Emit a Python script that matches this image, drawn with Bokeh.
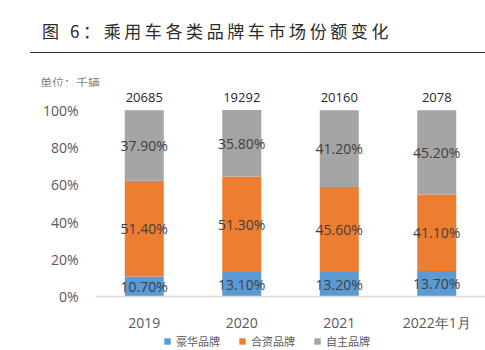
from bokeh.plotting import figure
from bokeh.models import (ColumnDataSource, FactorRange, Range1d, FixedTicker,
                          NumeralTickFormatter, Legend, LegendItem, Div)
from bokeh.layouts import column
from bokeh.core.properties import value
from bokeh.embed import file_html
from bokeh.resources import INLINE

# ---------------- data ----------------
title_text = "图 6：乘用车各类品牌车市场份额变化"
unit_text = "单位：千辆"
categories = ["2019", "2020", "2021", "2022年1月"]
totals = [20685, 19292, 20160, 2078]
series_names = ["豪华品牌", "合资品牌", "自主品牌"]
luxury = [0.107, 0.131, 0.132, 0.137]
joint = [0.514, 0.513, 0.456, 0.411]
domestic = [0.379, 0.358, 0.412, 0.452]
colors = ["#5B9BD5", "#ED7D31", "#A5A5A5"]
y_ticks = [0, 0.2, 0.4, 0.6, 0.8, 1.0]

FONT = "Open Sans"
CJK = "Noto Sans CJK SC"

src = ColumnDataSource(dict(cat=categories, lux=luxury, jv=joint, dom=domestic,
                            tot=[str(v) for v in totals],
                            top=[a + b + c for a, b, c in zip(luxury, joint, domestic)]))
lux_mid = [v / 2 for v in luxury]
jv_mid = [a + b / 2 for a, b in zip(luxury, joint)]
dom_mid = [a + b + c / 2 for a, b, c in zip(luxury, joint, domestic)]


def pct(v):
    return "%.2f%%" % (v * 100)


# ---------------- header (title, rule, unit) ----------------
header_html = (
    '<div style="position:relative;width:485px;height:86px;">'
    '<div style="position:absolute;left:42px;top:20px;white-space:nowrap;letter-spacing:3.6px;'
    "font-family:'Noto Sans CJK SC';font-size:17px;font-weight:400;line-height:22px;color:#2b2b2b;\">"
    + title_text + '</div>'
    '<div style="position:absolute;left:30px;top:52px;width:455px;height:0;'
    'border-top:1.5px solid #333333;"></div>'
    '<div style="position:absolute;left:40px;top:76px;white-space:nowrap;'
    "font-family:'Noto Sans CJK SC';font-size:12px;line-height:14px;color:#7f7f7f;\">"
    + unit_text + '</div></div>'
)
header = Div(text=header_html, width=485, height=86, margin=0)

# ---------------- chart ----------------
p = figure(width=485, height=248, x_range=FactorRange(*categories),
           y_range=Range1d(0, 1.1277), output_backend="svg", toolbar_location=None,
           min_border_left=95, min_border_right=0, min_border_top=0, min_border_bottom=36,
           margin=0)
p.outline_line_color = None
p.grid.visible = False

r = p.vbar_stack(["lux", "jv", "dom"], x="cat", width=0.4, source=src,
                 color=colors, line_color=None)

for mids, vals in [(lux_mid, luxury), (jv_mid, joint), (dom_mid, domestic)]:
    p.text(x=categories, y=mids, text=[pct(v) for v in vals], text_font=value(FONT),
           text_font_size="14px", text_color="#404040", text_align="center",
           text_baseline="middle")

p.text(x="cat", y="top", text="tot", source=src, text_font=value(FONT),
       text_font_size="13px", text_color="#262626", text_align="center",
       text_baseline="bottom", y_offset=-8)

p.yaxis.ticker = FixedTicker(ticks=y_ticks)
p.yaxis.formatter = NumeralTickFormatter(format="0%")
p.yaxis.axis_line_color = None
p.yaxis.major_tick_line_color = None
p.yaxis.minor_tick_line_color = None
p.yaxis.major_label_text_font = FONT
p.yaxis.major_label_text_font_size = "14px"
p.yaxis.major_label_text_color = "#595959"
p.yaxis.major_label_standoff = 11

p.xaxis.axis_line_color = "#D9D9D9"
p.xaxis.axis_line_width = 1.5
p.xaxis.major_tick_line_color = None
p.xaxis.minor_tick_line_color = None
p.xaxis.major_label_text_font = FONT
p.xaxis.major_label_text_font_size = "14px"
p.xaxis.major_label_text_color = "#595959"
p.xaxis.major_label_standoff = 10

# ---------------- legend strip ----------------
lg = figure(width=485, height=16, x_range=FactorRange(*categories), y_range=Range1d(0, 1),
            output_backend="svg", toolbar_location=None, min_border_left=95,
            min_border_right=0, min_border_top=0, min_border_bottom=0, margin=0)
lg.axis.visible = False
lg.grid.visible = False
lg.outline_line_color = None
lr = lg.vbar_stack(["lux", "jv", "dom"], x="cat", width=0.4, source=src,
                   color=colors, line_color=None)
for rr in lr:
    rr.visible = False
legend = Legend(items=[LegendItem(label=n, renderers=[rr]) for n, rr in zip(series_names, lr)],
                orientation="horizontal", location=(68, 1), label_text_font=CJK,
                label_text_font_size="11px", label_text_color="#595959",
                glyph_width=8, glyph_height=8, spacing=18, padding=0, margin=0,
                border_line_color=None, background_fill_alpha=0, label_height=14)
lg.add_layout(legend)

layout = column(header, p, lg, spacing=0)
open("out.html", "w").write(file_html(layout, INLINE))
